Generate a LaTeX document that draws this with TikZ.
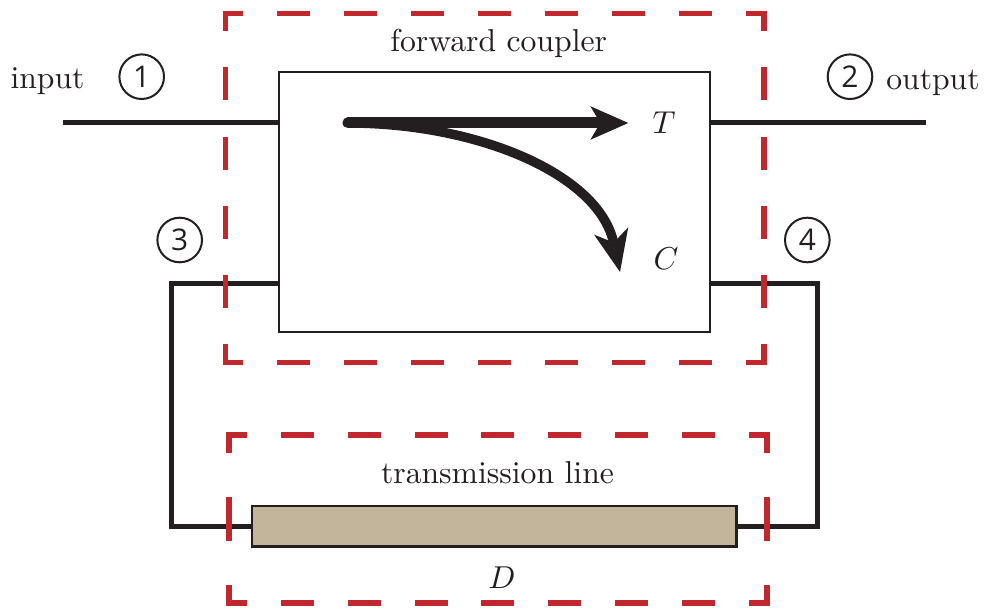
\documentclass[tikz,border=0pt]{standalone}
\usepackage{fontspec}
\setmainfont{Latin Modern Roman}
\newfontfamily\digitfont{Open Sans}
\definecolor{ink}{HTML}{231F20}
\definecolor{boxred}{HTML}{C1272D}
\definecolor{linetan}{HTML}{C3B49C}
\begin{document}
\begin{tikzpicture}[x=1bp,y=-1bp,
  lbl/.style={inner sep=0pt, scale=3.18, text=ink},
  portnum/.style={circle, draw=ink, line width=2bp, minimum size=44.6bp, inner sep=0pt,
     text=ink, font=\digitfont\fontsize{30}{30}\selectfont},
  wire/.style={draw=ink, line width=5bp},
  reddash/.style={draw=boxred, line width=5.5bp},
  hdash/.style={reddash, dash pattern=on 33bp off 34bp, dash phase=12.45bp},
  vdash/.style={reddash, dash pattern=on 33bp off 36.2bp, dash phase=12.25bp},
  hdashb/.style={reddash, dash pattern=on 33bp off 33.9bp, dash phase=12.25bp},
  vdashb/.style={reddash, dash pattern=on 43.3bp off 44.5bp, dash phase=22.8bp}]
\useasboundingbox (0,0) rectangle (987,614);

% blocks
\node[draw=ink, line width=2.2bp, minimum width=431bp, minimum height=259.7bp, inner sep=0pt] (coup) at (494.5,201.9) {};
\node[draw=ink, fill=linetan, line width=2.5bp, minimum width=484.7bp, minimum height=40.9bp, inner sep=0pt] (tl) at (494.3,526.2) {};

% wires
\coordinate (inend) at (63.3,123);
\coordinate (outend) at (925.7,123);
\coordinate (c3a) at (171.8,283.3);
\coordinate (c3b) at (171.8,526.2);
\coordinate (c4a) at (817.3,283.3);
\coordinate (c4b) at (817.3,526.2);
\draw[wire] (inend) -- (inend -| coup.west);
\draw[wire] (coup.east |- outend) -- (outend);
\draw[wire] (coup.west |- c3a) -- (c3a) -- (c3b) -- (c3b -| tl.west);
\draw[wire] (coup.east |- c4a) -- (c4a) -- (c4b) -- (c4b -| tl.east);

% arrows inside the coupler
\coordinate (astart) at (348,123);
\coordinate (notchT) at (600.3,123);
\coordinate (tipT) at (628.3,123);
\coordinate (notchC) at (613.6,242.7);
\coordinate (tipC) at (620,272);
\draw[ink, line width=9.5bp] (astart) .. controls (478,123) and (598.8,174.3) .. (notchC);
\draw[ink, line width=11bp, line cap=round] (astart) -- (notchT);
\fill[ink] (tipT) -- ++(-38,-16.8) -- ++(10,16.8) -- ++(-10,16.8) -- cycle;
\fill[ink, rotate around={-77.8:(tipC)}] (tipC) -- ++(-42,-17.5) -- ++(12,17.5) -- ++(-12,17.5) -- cycle;

% labels
\node[lbl, anchor=base] (inlbl) at (47.5,89) {input};
\node[lbl, anchor=base] (outlbl) at (933,90) {output};
\node[lbl, anchor=base] (fclbl) at (498.7,51.5) {forward coupler};
\node[lbl, anchor=base] (tllbl) at (497.5,483.3) {transmission line};
\node[lbl] (Tlbl) at (664,122.5) {$T$};
\node[lbl] (Clbl) at (666,259) {$C$};
\node[lbl] (Dlbl) at (502,578) {$D$};

% port numbers
\node[portnum] (p1) at (141.7,76.7) {1};
\node[portnum] (p2) at (850,76.7) {2};
\node[portnum] (p3) at (179.7,240) {3};
\node[portnum] (p4) at (807.3,240) {4};

% red dashed groups
\coordinate (fa) at (225.5,13.3);
\coordinate (fb) at (764.2,362.3);
\draw[hdash] ([xshift=-2.75bp]fa) -- ([xshift=2.75bp]fa -| fb);
\draw[hdash] ([xshift=-2.75bp]fa |- fb) -- ([xshift=2.75bp]fb);
\draw[vdash] ([yshift=2.75bp]fa) -- ([yshift=-2.75bp]fa |- fb);
\draw[vdash] ([yshift=2.75bp]fa -| fb) -- ([yshift=-2.75bp]fb);
\coordinate (ta) at (228.8,435);
\coordinate (tb) at (767.2,602.8);
\draw[hdashb] ([xshift=-2.75bp]ta) -- ([xshift=2.75bp]ta -| tb);
\draw[hdashb] ([xshift=-2.75bp]ta |- tb) -- ([xshift=2.75bp]tb);
\draw[vdashb] ([yshift=2.75bp]ta) -- ([yshift=-2.75bp]ta |- tb);
\draw[vdashb] ([yshift=2.75bp]ta -| tb) -- ([yshift=-2.75bp]tb);
\end{tikzpicture}
\end{document}
